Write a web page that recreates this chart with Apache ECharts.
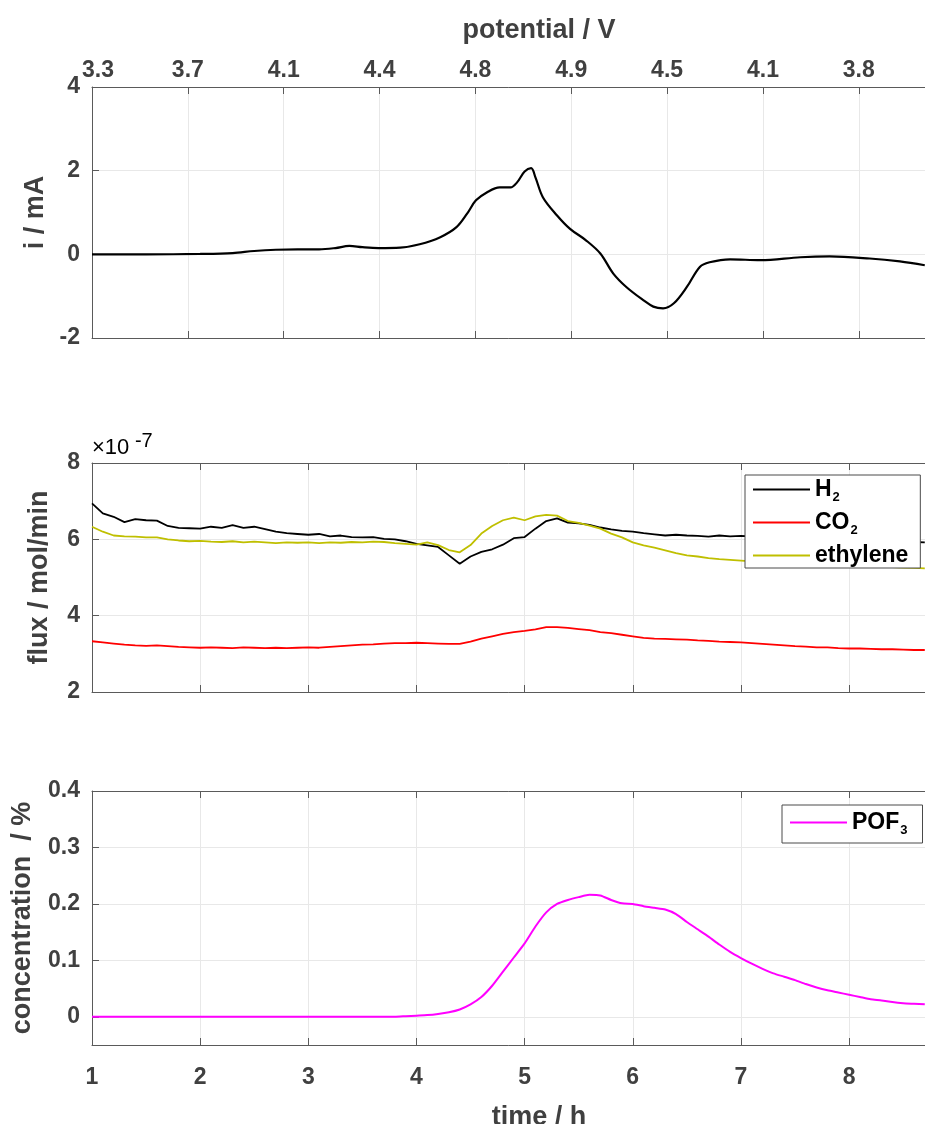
<!DOCTYPE html>
<html>
<head>
<meta charset="utf-8">
<script src="https://cdn.jsdelivr.net/npm/echarts@6/dist/echarts.min.js"></script>
<style>
  html, body { margin: 0; padding: 0; background: #ffffff; }
  #chart { width: 925px; height: 1124px; }
</style>
</head>
<body>
<div id="chart"></div>
<script>
// ---- data -------------------------------------------------------------
// potential labels along the top axis of the current panel
const potentialTicks = ['3.3', '3.7', '4.1', '4.4', '4.8', '4.9', '4.5', '4.1', '3.8', ''];

// cell current (mA) vs time (h)
const currentTime = [1.00, 1.50, 2.00, 2.30, 2.50, 2.70, 2.90, 3.10, 3.25, 3.38, 3.50, 3.65, 3.85,
  4.03, 4.22, 4.37, 4.47, 4.55, 4.65, 4.77, 4.87, 4.93, 5.00, 5.06, 5.10, 5.17, 5.30, 5.42, 5.57,
  5.70, 5.82, 5.94, 6.10, 6.19, 6.28, 6.38, 6.50, 6.62, 6.71, 6.90, 7.18, 7.55, 7.82, 8.19, 8.47, 8.70];
const currentValue = [0.00, 0.00, 0.01, 0.03, 0.08, 0.11, 0.12, 0.12, 0.15, 0.20, 0.17, 0.15, 0.16,
  0.24, 0.41, 0.65, 0.98, 1.29, 1.48, 1.60, 1.60, 1.72, 1.98, 2.06, 1.84, 1.36, 0.93, 0.61, 0.33,
  0.02, -0.46, -0.78, -1.10, -1.25, -1.29, -1.17, -0.78, -0.30, -0.19, -0.12, -0.14, -0.07, -0.05, -0.10, -0.17, -0.26];

// gas flux (x1e-7 mol/min) vs time (h)
const fluxTime = [1.0, 1.1, 1.2, 1.3, 1.4, 1.5, 1.6, 1.7, 1.8, 1.9,
  2.0, 2.1, 2.2, 2.3, 2.4, 2.5, 2.6, 2.7, 2.8, 2.9,
  3.0, 3.1, 3.2, 3.3, 3.4, 3.5, 3.6, 3.7, 3.8, 3.9,
  4.0, 4.1, 4.2, 4.3, 4.4, 4.5, 4.6, 4.7, 4.8, 4.9,
  5.0, 5.1, 5.2, 5.3, 5.4, 5.5, 5.6, 5.7, 5.8, 5.9,
  6.0, 6.1, 6.2, 6.3, 6.4, 6.5, 6.6, 6.7, 6.8, 6.9,
  7.0, 7.1, 7.2, 7.3, 7.4, 7.5, 7.6, 7.7, 7.8, 7.9,
  8.0, 8.1, 8.2, 8.3, 8.4, 8.5, 8.6, 8.7];
const fluxH2 = [6.94, 6.68, 6.59, 6.45, 6.53, 6.50, 6.49, 6.35, 6.30, 6.29,
  6.28, 6.33, 6.30, 6.37, 6.30, 6.33, 6.27, 6.20, 6.16, 6.14,
  6.12, 6.14, 6.08, 6.10, 6.06, 6.05, 6.06, 6.01, 6.00, 5.95,
  5.88, 5.84, 5.80, 5.58, 5.36, 5.55, 5.67, 5.74, 5.86, 6.03,
  6.06, 6.28, 6.48, 6.55, 6.44, 6.42, 6.38, 6.31, 6.26, 6.22,
  6.20, 6.16, 6.13, 6.10, 6.12, 6.10, 6.09, 6.07, 6.10, 6.08,
  6.09, 6.08, 6.06, 6.05, 6.04, 6.03, 6.02, 6.01, 6.00, 5.99,
  5.98, 5.97, 5.96, 5.95, 5.95, 5.94, 5.93, 5.92];
const fluxCO2 = [3.33, 3.30, 3.27, 3.24, 3.22, 3.21, 3.22, 3.20, 3.18, 3.17,
  3.16, 3.17, 3.16, 3.15, 3.17, 3.16, 3.15, 3.16, 3.15, 3.16,
  3.17, 3.16, 3.18, 3.20, 3.22, 3.24, 3.25, 3.27, 3.28, 3.28,
  3.29, 3.28, 3.27, 3.26, 3.26, 3.32, 3.40, 3.46, 3.52, 3.57,
  3.60, 3.64, 3.70, 3.70, 3.68, 3.65, 3.62, 3.57, 3.54, 3.50,
  3.46, 3.42, 3.40, 3.39, 3.38, 3.37, 3.35, 3.34, 3.32, 3.31,
  3.30, 3.28, 3.26, 3.24, 3.22, 3.20, 3.19, 3.17, 3.17, 3.15,
  3.14, 3.14, 3.13, 3.12, 3.12, 3.11, 3.10, 3.10];
const fluxEthylene = [6.33, 6.20, 6.10, 6.08, 6.07, 6.05, 6.05, 6.00, 5.97, 5.95,
  5.96, 5.94, 5.93, 5.95, 5.92, 5.94, 5.92, 5.90, 5.92, 5.91,
  5.92, 5.90, 5.92, 5.91, 5.93, 5.92, 5.94, 5.93, 5.90, 5.88,
  5.86, 5.92, 5.85, 5.72, 5.66, 5.85, 6.15, 6.35, 6.50, 6.57,
  6.50, 6.60, 6.64, 6.62, 6.48, 6.43, 6.36, 6.28, 6.15, 6.05,
  5.92, 5.84, 5.78, 5.71, 5.64, 5.58, 5.55, 5.51, 5.48, 5.46,
  5.44, 5.42, 5.40, 5.39, 5.37, 5.36, 5.34, 5.33, 5.32, 5.31,
  5.30, 5.29, 5.28, 5.28, 5.27, 5.26, 5.25, 5.24];

// POF3 concentration (%) vs time (h)
const pof3 = [0, 0, 0, 0, 0, 0, 0, 0, 0, 0,
  0, 0, 0, 0, 0, 0, 0, 0, 0, 0,
  0, 0, 0, 0, 0, 0, 0, 0, 0, 0.001,
  0.002, 0.003, 0.005, 0.008, 0.013, 0.022, 0.035, 0.055, 0.080, 0.105,
  0.130, 0.160, 0.185, 0.200, 0.207, 0.212, 0.216, 0.215, 0.207, 0.201,
  0.200, 0.196, 0.193, 0.190, 0.182, 0.168, 0.155, 0.142, 0.128, 0.115,
  0.104, 0.094, 0.085, 0.077, 0.071, 0.065, 0.058, 0.052, 0.047, 0.043,
  0.039, 0.035, 0.031, 0.029, 0.026, 0.024, 0.023, 0.022];
const concTicks = [0, 0.1, 0.2, 0.3, 0.4];

// ---- layout & style ---------------------------------------------------
const FONT = "'Liberation Sans', Arial, Helvetica, sans-serif";
const AXIS_COLOR = '#5a5a5a';
const LABEL_COLOR = '#404040';
const GRID_COLOR = '#e8e8e8';
const T_MIN = 1, T_MAX = 9.266;   // time axis extent (plot box runs past the right page edge)
const P_MAX = 9.327;              // potential tick index extent
const PLOT_LEFT = 92, PLOT_WIDTH = 894;

const pair = (xs, ys) => xs.map((x, i) => [x, ys[i]]);

const tickLabel = { fontFamily: FONT, fontSize: 23, fontWeight: 'bold', color: LABEL_COLOR };
const nameStyle = { fontFamily: FONT, fontSize: 27, fontWeight: 'bold', color: LABEL_COLOR };

function xAx(o) {
  return Object.assign({
    type: 'value',
    axisLine: { show: true, onZero: false, lineStyle: { color: AXIS_COLOR, width: 1 } },
    axisTick: { show: true, inside: true, length: 7, lineStyle: { color: AXIS_COLOR } },
    axisLabel: { show: false },
    splitLine: { show: false }
  }, o);
}
function yAx(o) {
  return Object.assign({
    type: 'value',
    position: 'left',
    nameLocation: 'middle',
    nameTextStyle: nameStyle,
    axisLine: { show: true, onZero: false, lineStyle: { color: AXIS_COLOR, width: 1 } },
    axisTick: { show: true, inside: true, length: 7, lineStyle: { color: AXIS_COLOR } },
    axisLabel: Object.assign({ margin: 12 }, tickLabel),
    splitLine: { show: true, lineStyle: { color: GRID_COLOR, width: 1 } }
  }, o);
}

const legendRich = {
  m: { fontFamily: FONT, fontSize: 23, fontWeight: 'bold', color: '#000000' },
  s: { fontFamily: FONT, fontSize: 13, fontWeight: 'bold', color: '#000000', verticalAlign: 'bottom', padding: [0, 0, -3, 1] }
};
const legendText = { H2: '{m|H}{s|2}', CO2: '{m|CO}{s|2}', ethylene: '{m|ethylene}', POF3: '{m|POF}{s|3}' };
const legendBase = {
  orient: 'vertical',
  backgroundColor: '#ffffff',
  borderColor: '#4a4a4a',
  borderWidth: 1,
  borderRadius: 0,
  icon: 'rect',
  itemWidth: 57,
  itemHeight: 2,
  itemGap: 7,
  selectedMode: false,
  formatter: name => legendText[name],
  textStyle: { fontFamily: FONT, fontSize: 23, fontWeight: 'bold', color: '#000000', rich: legendRich }
};

const gridBase = { left: PLOT_LEFT, width: PLOT_WIDTH, outerBoundsMode: 'none', containLabel: false };

// first potential label sits slightly right of the corner
const potentialLabel = Object.assign({
  show: true, margin: 5,
  formatter: v => {
    const i = Math.round(v);
    const t = potentialTicks[i] || '';
    return i === 0 ? '{first|' + t + '}' : t;
  },
  rich: { first: Object.assign({ padding: [0, 0, 0, 12] }, tickLabel) }
}, tickLabel);

const option = {
  backgroundColor: '#ffffff',
  animation: false,
  grid: [
    Object.assign({ top: 87, height: 251 }, gridBase),
    Object.assign({ top: 463, height: 229 }, gridBase),
    Object.assign({ top: 791, height: 254 }, gridBase)
  ],
  xAxis: [
    // 0: potential axis on top of the current panel
    xAx({ gridIndex: 0, position: 'top', min: 0, max: P_MAX, interval: 1,
      name: 'potential / V', nameLocation: 'middle', nameGap: 43, nameTextStyle: nameStyle,
      axisLabel: potentialLabel,
      splitLine: { show: true, lineStyle: { color: GRID_COLOR, width: 1 } } }),
    // 1: mirrored potential ticks along the bottom edge
    xAx({ gridIndex: 0, position: 'bottom', min: 0, max: P_MAX, interval: 1 }),
    // 2: time axis carrying the current trace
    xAx({ gridIndex: 0, position: 'bottom', min: T_MIN, max: T_MAX, interval: 1, show: false }),
    // 3, 4: flux panel edges
    xAx({ gridIndex: 1, position: 'bottom', min: T_MIN, max: T_MAX, interval: 1,
      splitLine: { show: true, lineStyle: { color: GRID_COLOR, width: 1 } } }),
    xAx({ gridIndex: 1, position: 'top', min: T_MIN, max: T_MAX, interval: 1 }),
    // 5, 6: concentration panel edges, time labels at the bottom
    xAx({ gridIndex: 2, position: 'bottom', min: T_MIN, max: T_MAX, interval: 1,
      name: 'time / h', nameLocation: 'middle', nameGap: 59, nameTextStyle: nameStyle,
      axisLabel: Object.assign({ show: true, margin: 21, formatter: v => (Number.isInteger(v) ? String(v) : '') }, tickLabel),
      splitLine: { show: true, lineStyle: { color: GRID_COLOR, width: 1 } } }),
    xAx({ gridIndex: 2, position: 'top', min: T_MIN, max: T_MAX, interval: 1 })
  ],
  yAxis: [
    yAx({ gridIndex: 0, min: -2, max: 4, interval: 2, name: 'i / mA', nameGap: 41 }),
    yAx({ gridIndex: 1, min: 2, max: 8, interval: 2, name: 'flux / mol/min', nameGap: 39 }),
    yAx({ gridIndex: 2, min: -0.05, max: 0.4, name: 'concentration  / %', nameGap: 56,
      axisTick: { show: true, inside: true, length: 7, customValues: concTicks, lineStyle: { color: AXIS_COLOR } },
      axisLabel: Object.assign({ margin: 12, customValues: concTicks }, tickLabel) })
  ],
  legend: [
    Object.assign({}, legendBase, { data: ['H2', 'CO2', 'ethylene'], left: 745, top: 475, padding: [3, 12, 1, 8] }),
    Object.assign({}, legendBase, { data: ['POF3'], left: 782, top: 805, padding: [6, 15, 6, 8] })
  ],
  graphic: [{
    type: 'text',
    left: 92, top: 431,
    style: {
      text: '{a|×10}{b| -7}',
      rich: {
        a: { fontFamily: FONT, fontSize: 22, color: LABEL_COLOR, verticalAlign: 'bottom' },
        b: { fontFamily: FONT, fontSize: 20, color: LABEL_COLOR, verticalAlign: 'top', padding: [0, 0, 8, 0] }
      }
    }
  }],
  series: [
    { name: 'current', type: 'line', xAxisIndex: 2, yAxisIndex: 0, data: pair(currentTime, currentValue),
      symbol: 'none', smooth: 0.35, lineStyle: { color: '#000000', width: 2.2 } },
    { name: 'H2', type: 'line', xAxisIndex: 3, yAxisIndex: 1, data: pair(fluxTime, fluxH2),
      symbol: 'none', color: '#000000', lineStyle: { color: '#000000', width: 1.8 } },
    { name: 'CO2', type: 'line', xAxisIndex: 3, yAxisIndex: 1, data: pair(fluxTime, fluxCO2),
      symbol: 'none', color: '#ff0000', lineStyle: { color: '#ff0000', width: 1.8 } },
    { name: 'ethylene', type: 'line', xAxisIndex: 3, yAxisIndex: 1, data: pair(fluxTime, fluxEthylene),
      symbol: 'none', color: '#bfbf00', lineStyle: { color: '#bfbf00', width: 1.8 } },
    { name: 'POF3', type: 'line', xAxisIndex: 5, yAxisIndex: 2, data: pair(fluxTime, pof3),
      symbol: 'none', smooth: 0.2, color: '#ff00ff', lineStyle: { color: '#ff00ff', width: 2 } }
  ]
};

const chart = echarts.init(document.getElementById('chart'), null, { renderer: 'canvas' });
chart.setOption(option);
</script>
</body>
</html>
